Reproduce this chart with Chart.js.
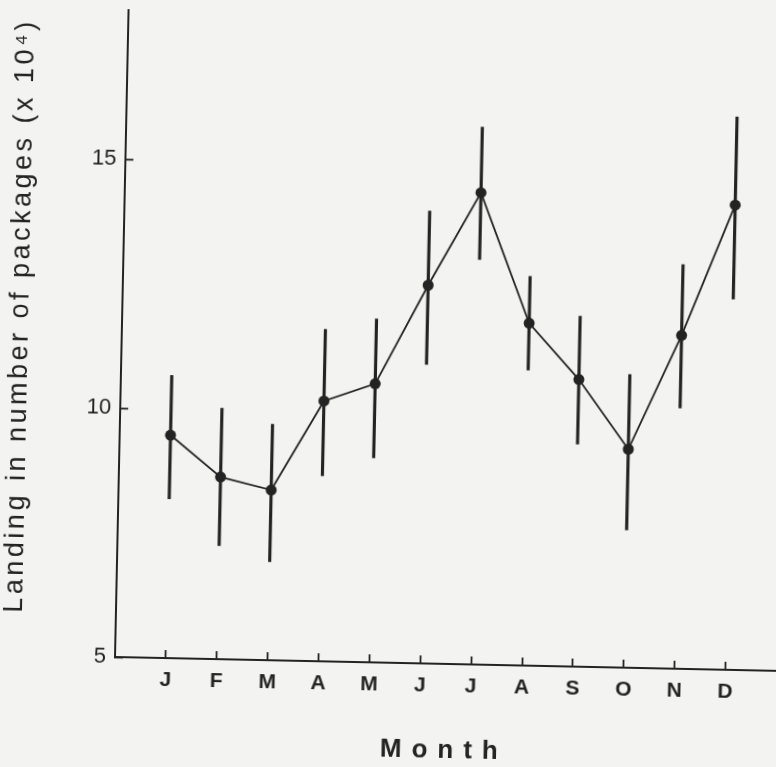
<!DOCTYPE html>
<html>
<head>
<meta charset="utf-8">
<script src="https://cdn.jsdelivr.net/npm/chart.js@4/dist/chart.umd.min.js"></script>
<style>
  html, body { margin: 0; padding: 0; background: #f3f3f1; overflow: hidden; width: 776px; height: 767px; }
  #plot { position: absolute; left: 0; top: 0; transform-origin: 115px 657px; transform: rotate(1.2deg); }
</style>
</head>
<body>
<canvas id="plot" width="782" height="767"></canvas>
<script>
// Monthly landings (x10^4 packages): mean with upper / lower range
const months = ['J', 'F', 'M', 'A', 'M', 'J', 'J', 'A', 'S', 'O', 'N', 'D'];
const monthIndex = [1, 2, 3, 4, 5, 6, 7, 8, 9, 10, 11, 12];
const landing = [9.48, 8.66, 8.42, 10.23, 10.60, 12.60, 14.48, 11.88, 10.77, 9.39, 11.70, 14.34];
const upper   = [10.68, 10.04, 9.74, 11.67, 11.90, 14.09, 15.80, 12.82, 12.04, 10.89, 13.12, 16.11];
const lower   = [8.20, 7.28, 6.98, 8.73, 9.11, 11.01, 13.14, 10.94, 9.47, 7.77, 10.24, 12.45];
const yTicks  = [5, 10, 15];

const ink = '#232323';
const sans = "'Liberation Sans', Arial, Helvetica, sans-serif";

// Letter-spaced axis titles (canvas letterSpacing), with an optional shift
const spacedTitles = {
  id: 'spacedTitles',
  beforeDraw(chart, args, opts) {
    for (const id of Object.keys(opts)) {
      const s = chart.scales[id];
      if (!s || s.$spaced) continue;
      const o = opts[id];
      const base = s.drawTitle;
      s.drawTitle = function () {
        const c = this.ctx;
        c.save();
        c.letterSpacing = o.spacing + 'px';
        c.translate(o.dx || 0, o.dy || 0);
        base.call(this);
        c.restore();
      };
      s.$spaced = true;
    }
  }
};

function zeroPad(scale) {
  scale.paddingTop = 0; scale.paddingBottom = 0;
  scale.paddingLeft = 0; scale.paddingRight = 0;
}

new Chart(document.getElementById('plot'), {
  type: 'line',
  data: {
    datasets: [
      {
        type: 'line',
        data: monthIndex.map((m, i) => ({ x: m, y: landing[i] })),
        borderColor: ink,
        borderWidth: 1.8,
        pointRadius: 5.5,
        pointBackgroundColor: ink,
        pointBorderWidth: 0,
        tension: 0,
        fill: false
      },
      {
        type: 'bar',
        data: monthIndex.map((m, i) => ({ x: m, y: [lower[i], upper[i]] })),
        backgroundColor: ink,
        borderWidth: 0,
        barThickness: 2.5
      }
    ]
  },
  options: {
    responsive: false,
    animation: false,
    devicePixelRatio: 1,
    layout: { padding: { top: 10, left: 0, right: 0, bottom: 0 } },
    plugins: {
      legend: { display: false },
      tooltip: { enabled: false },
      spacedTitles: {
        x: { spacing: 10 },
        y: { spacing: 3.5, dy: -16 }
      }
    },
    scales: {
      x: {
        type: 'linear',
        min: 0,
        max: 13,
        offset: false,
        afterBuildTicks: (s) => { s.ticks = monthIndex.map(v => ({ value: v })); },
        afterFit: (s) => { s.height = 110; zeroPad(s); },
        grid: {
          offset: false,
          drawOnChartArea: false,
          drawTicks: true,
          tickLength: -8,
          tickWidth: 1.8,
          tickColor: ink
        },
        border: { display: true, color: ink, width: 2 },
        ticks: {
          padding: 18,
          autoSkip: false,
          maxRotation: 0,
          color: ink,
          font: { family: sans, size: 21, weight: 'bold' },
          callback: (v) => months[v - 1]
        },
        title: {
          display: true,
          text: 'Month',
          color: ink,
          font: { family: sans, size: 26, weight: 'bold' },
          padding: { top: 0, bottom: 8 }
        }
      },
      y: {
        type: 'linear',
        min: 5,
        max: 18,
        afterBuildTicks: (s) => { s.ticks = yTicks.map(v => ({ value: v })); },
        afterFit: (s) => { s.width = 115; zeroPad(s); },
        grid: {
          offset: false,
          drawOnChartArea: false,
          drawTicks: true,
          tickLength: -8,
          tickWidth: 1.8,
          tickColor: ink
        },
        border: { display: true, color: ink, width: 2 },
        ticks: {
          padding: 17,
          color: ink,
          font: { family: sans, size: 22 }
        },
        title: {
          display: true,
          text: 'Landing in number of packages (x 10⁴)',
          color: ink,
          font: { family: sans, size: 27, lineHeight: 1 },
          padding: { top: 0, bottom: 0 }
        }
      }
    }
  },
  plugins: [spacedTitles]
});
</script>
</body>
</html>
